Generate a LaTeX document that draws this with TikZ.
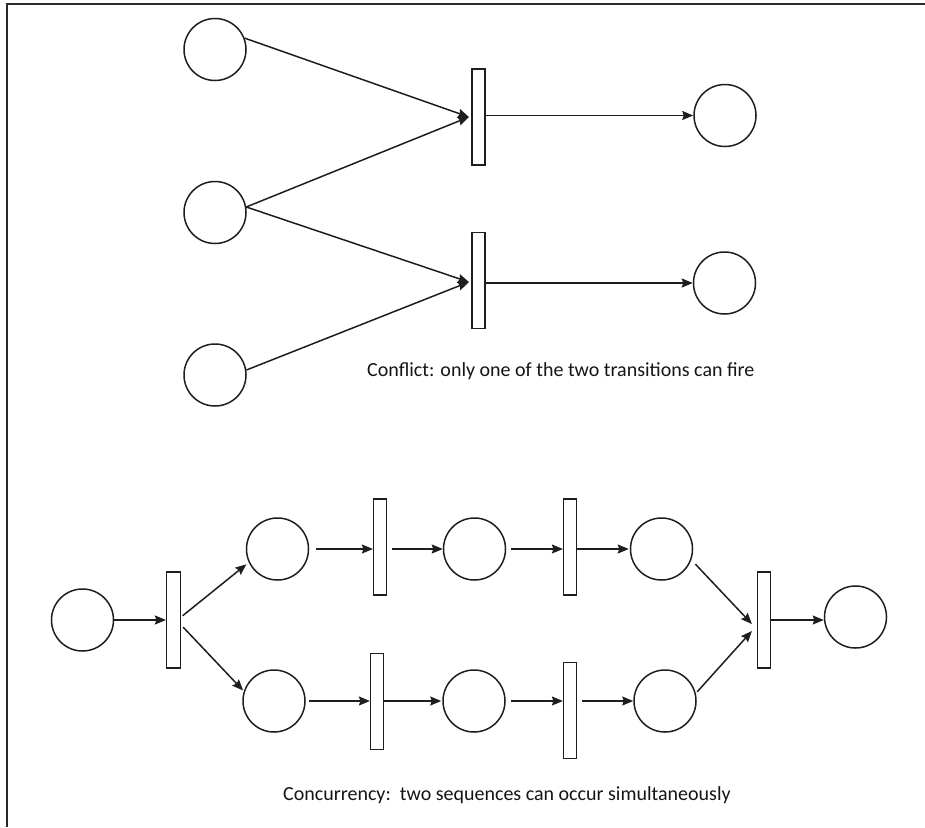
\documentclass[tikz,border=0pt]{standalone}
\usepackage{fontspec}
\setmainfont{Carlito}
\usetikzlibrary{arrows.meta}
\definecolor{linec}{HTML}{1E1E1E}
\definecolor{textc}{HTML}{151515}
\definecolor{framec}{HTML}{2A2A2A}
\begin{document}
\begin{tikzpicture}[x=1pt,y=-1pt,
  place/.style={circle,draw=linec,line width=1.5pt,minimum size=62pt,inner sep=0pt},
  trans/.style={rectangle,draw=linec,line width=1.5pt,minimum width=12.7pt,minimum height=96pt,inner sep=0pt},
  arc/.style={draw=linec,line width=1.5pt,-{Stealth[length=11pt,width=9pt,inset=1.5pt]}},
  lbl/.style={inner sep=0pt,anchor=west,font=\fontsize{20pt}{24pt}\selectfont,text=textc}]
\useasboundingbox (0,0) rectangle (925,827);
\fill[white] (0,0) rectangle (925,827);
\draw[framec,line width=1.3pt] (7,827) -- (7,4) -- (925,4);

% conflict net
\node[place] (P1) at (215,49.5) {};
\node[place] (P2) at (215,212.5) {};
\node[place] (P3) at (215,375) {};
\node[trans] (T1) at (478.5,117) {};
\node[trans] (T2) at (478.5,280.5) {};
\node[place] (O1) at (725,115.5) {};
\node[place] (O2) at (724.5,283) {};

\draw[arc] (P1.21) -- ([xshift=-2.5pt]T1.west);
\draw[arc] (P2.10) -- ([xshift=-2.5pt]T1.west);
\draw[arc] (P2.10) -- ([xshift=-2.5pt,yshift=-1.5pt]T2.west);
\draw[arc] (P3.9) -- ([xshift=-2.5pt,yshift=-1.5pt]T2.west);
\draw[arc] (T1.east |- O1.west) -- (O1.west);
\draw[arc] (T2.east |- O2.west) -- (O2.west);

\node[lbl] (c1) at (367,371.5) {Conflict: only one of the two transitions can fire};

% concurrency net
\node[place] (PS) at (82.5,620) {};
\node[trans,minimum width=13.7pt] (TS) at (173.5,620) {};
\node[place] (A1) at (277.5,549) {};
\node[place] (B1) at (274,701) {};
\node[trans] (T2a) at (380,547) {};
\node[trans] (T2b) at (377,701.5) {};
\node[place] (A2) at (474.5,549) {};
\node[place] (B2) at (474,701) {};
\node[trans] (T3a) at (570,547) {};
\node[trans] (T3b) at (570,710.5) {};
\node[place] (A3) at (661.5,549) {};
\node[place] (B3) at (665,701) {};
\node[trans] (TE) at (764,620) {};
\node[place] (OUT) at (855.5,617) {};

\draw[arc] (PS.east) -- (TS.west);
\draw[arc,shorten <=2pt,shorten >=3pt] ([yshift=3pt]TS.east) -- (A1.205);
\draw[arc,shorten <=3pt,shorten >=1pt] ([yshift=-5pt]TS.east) -- (B1.162);
\draw[arc,shorten <=7pt] (A1.east) -- (A1.east -| T2a.west);
\draw[arc,shorten <=5pt] (T2a.east |- A2.west) -- (A2.west);
\draw[arc,shorten <=5pt] (A2.east) -- (A2.east -| T3a.west);
\draw[arc,shorten >=1pt] (T3a.east |- A3.west) -- (A3.west);
\draw[arc,shorten <=3pt] (B1.east) -- (B1.east -| T2b.west);
\draw[arc,shorten >=1pt] (T2b.east |- B2.west) -- (B2.west);
\draw[arc,shorten <=5pt] (B2.east) -- (B2.east -| T3b.west);
\draw[arc,shorten <=5pt] (T3b.east |- B3.west) -- (B3.west);
\draw[arc,shorten <=6pt] (A3.-20) -- ([xshift=-5pt,yshift=-4pt]TE.west);
\draw[arc,shorten <=2pt] (B3.14) -- ([xshift=-5pt,yshift=-11pt]TE.west);
\draw[arc] (TE.east) -- (TE.east -| OUT.west);

\node[lbl] (c2) at (283,795) {Concurrency:\ \ two sequences can occur simultaneously};
\end{tikzpicture}
\end{document}
